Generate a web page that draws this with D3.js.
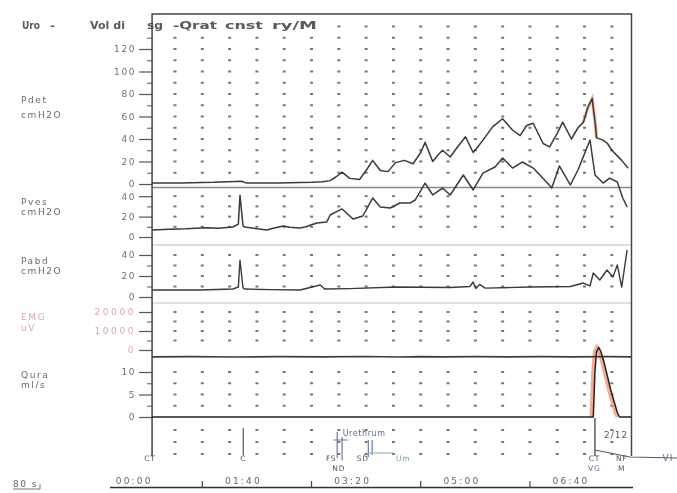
<!DOCTYPE html>
<html>
<head>
<meta charset="utf-8">
<script src="https://cdn.jsdelivr.net/npm/d3@7/dist/d3.min.js"></script>
<style>
  html, body { margin: 0; padding: 0; background: #fff; }
  svg { display: block; font-family: "DejaVu Sans", "Liberation Sans", sans-serif; }
</style>
</head>
<body>
<svg id="chart" width="677" height="493"></svg>
<script>
// ---- channel data: [time in s, value] ----
const pdet = [[4,1],[30,1],[60,1.5],[86,2.5],[90,1],[120,1],[150,1.5],[160,2],[167,3],[172,6],[178,10.5],[185,5],
  [194,4],[200,12],[206,21],[213,12],[220,11],[227,19],[235,21],[243,18],[250,28],[254,37],[261,20],[266,26],
  [270,30],[277,24],[283,32],[291,42],[298,28],[303,34],[307,39],[316,51],[325,58],[334,48],[341,43],[347,52],
  [353,54],[362,36],[368,33],[375,45],[380,55],[388,40],[394,50],[399,55],[403,68],[407,76],[410,52],[411,41],
  [417,39],[421,36],[425,30],[430,25],[434,21],[440,14]];

const pves = [[4,6.9],[20,7.5],[35,8],[48,8.8],[55,9],[65,8.5],[78,9.8],[83,12.7],[84.5,41],[87.3,10.8],[89,9.8],
  [100,8],[109,6.9],[115,8.5],[124,10.8],[130,9.5],[139.5,8.8],[145,10],[150,12],[155,13.7],[164,14.7],[167,21.6],
  [178,27.5],[188,17.6],[197,20.6],[206,38.2],[213,29.4],[222,28.4],[231,33.3],[240,33.3],[245,36.3],[254,52.9],
  [261,41.2],[270,48],[277,41.2],[289,60.8],[298,46.1],[307,62.7],[318,68.6],[325,77.5],[334,67.6],[343,73.5],
  [353,67.6],[366,52.9],[370,48],[377,69.6],[387,51],[394,65.7],[405,95.1],[409.6,60.8],[417,52.9],[423,57.8],
  [430,53.9],[435,38.2],[439,29.4]];

const pabd = [[4,6.7],[48,6.7],[78,7.6],[83,9.5],[84.5,35],[87.3,8.6],[89,7.6],[112,7],[139.5,6.7],[158,11.4],
  [162,7.6],[185,8],[228,9.5],[277,9],[295,10],[298,14.3],[300.5,8],[304,12],[309,8.5],[350,9.5],[387,10],
  [399,13.3],[405,10.5],[408,22.9],[414,16.2],[420.6,25.7],[426,19],[430,30.5],[434,9.5],[439,44.8]];

const emg = [[4,-3600],[40,-3500],[80,-3700],[120,-3500],[160,-3600],[200,-3400],[230,-3700],[250,-3500],
  [270,-3600],[300,-3500],[330,-3600],[360,-3500],[390,-3600],[420,-3500],[443,-3600]];

const qura = [[4,0],[408,0],[409.5,10],[411,14.5],[413,15.5],[415,14.5],[418,12],[421,9],[424,6],[427,3.5],
  [430,1],[432,0],[443,0]];

// ---- axis ticks ----
const pdetTicks = [0,20,40,60,80,100,120];
const pdetMinor = [10,30,50,70,90,110,130];
const pvesTicks = [0,20,40];
const pvesMinor = [10,30];
const pabdTicks = [0,20,40];
const pabdMinor = [10,30];
const emgTicks = [0,10000,20000];
const emgMinor = [5000,15000];
const quraTicks = [0,5,10];
const quraMinor = [2.5,7.5];

const timeTicks = [0,100,200,300,400];
const timeLabels = ["00:00","01:40","03:20","05:00","06:40"];
const timeMinor = [50,150,250,350];

// ---- event markers ----
const eventLabels = [
  {t:2, text:"CT", row:0},
  {t:87.5, text:"C", row:0},
  {t:168, text:"FS", row:0},
  {t:175, text:"ND", row:1},
  {t:197, text:"SD", row:0},
  {t:234, text:"Um", row:0, color:"#6fa88a"},
  {t:409, text:"CT", row:0},
  {t:409, text:"VG", row:1, color:"#5a6a9a"},
  {t:434, text:"NF", row:0},
  {t:434, text:"M", row:1}
];
const eventLines = [87.5, 173.5, 178, 202, 205.5];

const svg = d3.select("#chart");
const defs = svg.append("defs");
defs.append("filter").attr("id","soft").attr("x","-5%").attr("y","-5%").attr("width","110%").attr("height","110%")
  .append("feGaussianBlur").attr("stdDeviation",0.65);

const g = svg.append("g").attr("filter","url(#soft)");

const x = d3.scaleLinear().domain([0,443]).range([147.7,631.5]);
const yPdet = d3.scaleLinear().domain([0,120]).range([184,49]);
const yPves = d3.scaleLinear().domain([0,40]).range([237,196.2]);
const yPabd = d3.scaleLinear().domain([0,40]).range([297,255]);
const yEmg = d3.scaleLinear().domain([0,20000]).range([350,312]);
const yQura = d3.scaleLinear().domain([0,10]).range([417,372]);

const frameL = x(4), frameR = x(443), frameT = 14, frameB = 456;

const panels = [
  {name:"Pdet", unit:"cmH2O", y:yPdet, major:pdetTicks, minor:pdetMinor, rows:d3.range(10,150,10), lab:[103,118]},
  {name:"Pves", unit:"cmH2O", y:yPves, major:pvesTicks, minor:pvesMinor, rows:[10,20,30,40], lab:[205,215]},
  {name:"Pabd", unit:"cmH2O", y:yPabd, major:pabdTicks, minor:pabdMinor, rows:[10,20,30,40], lab:[264,274]},
  {name:"EMG", unit:"uV", y:yEmg, major:emgTicks, minor:emgMinor, rows:[5000,10000,15000,20000], lab:[320,331], pink:true},
  {name:"Qura", unit:"ml/s", y:yQura, major:quraTicks, minor:quraMinor, rows:[2.5,5,7.5,10], lab:[378,388]}
];

// dotted grid
const gridCols = d3.range(25,443,25);
const dots = g.append("g");
panels.forEach(p => {
  p.rows.forEach(r => {
    gridCols.forEach(c => {
      dots.append("rect").attr("x", x(c)-1.5).attr("y", p.y(r)-1).attr("width",3).attr("height",2)
        .attr("fill","#767676");
    });
  });
});
[430,442,454].forEach(yy => gridCols.forEach(c => {
  dots.append("rect").attr("x", x(c)-1.5).attr("y", yy-1).attr("width",3).attr("height",2).attr("fill","#767676");
}));

// panel separators
[[187.5,"#7f9088",1.5],[245,"#b8c4c8",1.2],[303,"#c4c4c4",1.2]].forEach(s => {
  g.append("line").attr("x1",frameL).attr("x2",frameR).attr("y1",s[0]).attr("y2",s[0])
    .attr("stroke",s[1]).attr("stroke-width",s[2]);
});

// title block
g.append("rect").attr("x",frameL+1).attr("y",19).attr("width",170).attr("height",12).attr("fill","#fff");
const titleParts = [["Uro",22,18],["-",50,5],["Vol di",90,35],["sg",147,16],["-Qrat",173,44],["cnst",225,38],["ry/M",272,45]];
titleParts.forEach(tp => {
  g.append("text").attr("x",tp[1]).attr("y",29).attr("textLength",tp[2]).attr("lengthAdjust","spacingAndGlyphs")
    .attr("font-size",11).attr("font-weight","bold").attr("fill","#5a5a5a").text(tp[0]);
});

// axes
panels.forEach(p => {
  const col = p.pink ? "#e3a2b4" : "#707070";
  const ax = g.append("g").attr("transform",`translate(${frameL},0)`)
    .call(d3.axisLeft(p.y).tickValues(p.major).tickSize(13).tickPadding(3).tickFormat(d3.format("d")));
  ax.select(".domain").remove();
  ax.selectAll("line").attr("stroke","#555").attr("stroke-width",1.2);
  ax.selectAll("text").attr("font-size",9).attr("fill",col).attr("letter-spacing", p.pink ? 2.6 : 1.6)
    .attr("font-family","DejaVu Sans");
  const mx = g.append("g").attr("transform",`translate(${frameL},0)`)
    .call(d3.axisLeft(p.y).tickValues(p.minor).tickSize(5).tickFormat(""));
  mx.select(".domain").remove();
  mx.selectAll("line").attr("stroke","#666").attr("stroke-width",1.1);
  // channel name
  g.append("text").attr("x",21).attr("y",p.lab[0]).attr("font-size",9).attr("letter-spacing",1.6)
    .attr("fill", p.pink ? "#e3a2b4" : "#6a6a6a").text(p.name);
  g.append("text").attr("x",21).attr("y",p.lab[1]).attr("font-size",9).attr("letter-spacing",1.6)
    .attr("fill", p.pink ? "#e3a2b4" : "#6a6a6a").text(p.unit);
});

// frame
g.append("path").attr("d",`M${frameL},${frameB}V${frameT}H${frameR}V${frameB}`)
  .attr("fill","none").attr("stroke","#444").attr("stroke-width",1.5);

// traces
const lineFor = ys => d3.line().x(d => x(d[0])).y(d => ys(d[1]));
// orange highlight on the detrusor peak and the flow curve
g.append("path").datum(pdet.filter(d => d[0] >= 399 && d[0] <= 411)).attr("d", lineFor(yPdet))
  .attr("fill","none").attr("stroke","#f2a07a").attr("stroke-width",3.2).attr("opacity",0.8);
g.append("path").datum(qura.filter(d => d[0] >= 406 && d[0] <= 433)).attr("d", lineFor(yQura))
  .attr("fill","none").attr("stroke","#f09070").attr("stroke-width",3.4).attr("opacity",0.75)
  .attr("transform","translate(-2,0)");

const traceStyle = (sel, w, c) => sel.attr("fill","none").attr("stroke",c).attr("stroke-width",w)
  .attr("stroke-linejoin","round");
traceStyle(g.append("path").datum(pdet).attr("d", lineFor(yPdet)), 1.5, "#3a3a3a");
traceStyle(g.append("path").datum(pves).attr("d", lineFor(yPves)), 1.5, "#3a3a3a");
traceStyle(g.append("path").datum(pabd).attr("d", lineFor(yPabd)), 1.4, "#3a3a3a");
traceStyle(g.append("path").datum(emg).attr("d", lineFor(yEmg)), 1.6, "#4a3838");
traceStyle(g.append("path").datum(qura).attr("d", lineFor(yQura)), 1.5, "#222");

// event channel
eventLines.forEach((t,i) => {
  const y1 = [428,432,437,440,440][i], y2 = [455,458,460,457,455][i];
  g.append("line").attr("x1",x(t)).attr("x2",x(t)).attr("y1",y1).attr("y2",y2)
    .attr("stroke", i === 0 ? "#555" : "#6a78a8").attr("stroke-width",1.2);
});
g.append("line").attr("x1",x(170)).attr("x2",x(183)).attr("y1",440).attr("y2",440).attr("stroke","#6a78a8").attr("stroke-width",1);
g.append("line").attr("x1",x(202)).attr("x2",x(225)).attr("y1",453).attr("y2",453).attr("stroke","#8fbf9f").attr("stroke-width",1.2);
g.append("text").attr("x",x(178.5)).attr("y",436).attr("font-size",8).attr("letter-spacing",0.6)
  .attr("fill","#5a6a98").text("Urethrum");
// voiding marker and volume trace
g.append("line").attr("x1",x(409.5)).attr("x2",x(409.5)).attr("y1",418).attr("y2",frameB)
  .attr("stroke","#444").attr("stroke-width",1.3);
g.append("path").attr("d", `M${x(409.5)},450L${x(441.5)},457L677,458`).attr("fill","none")
  .attr("stroke","#556").attr("stroke-width",1.1);
g.append("text").attr("x",x(429)).attr("y",438).attr("font-size",9).attr("text-anchor","middle")
  .attr("letter-spacing",1).attr("fill","#555").text("2/12");
g.append("text").attr("x",668).attr("y",461).attr("font-size",9).attr("text-anchor","middle")
  .attr("letter-spacing",1).attr("fill","#6a6a8a").text("VI");
eventLabels.forEach(e => {
  g.append("text").attr("x",x(e.t)).attr("y", e.row ? 470.5 : 461).attr("font-size",7.5).attr("text-anchor","middle")
    .attr("letter-spacing",0.8).attr("fill", e.color || "#555").text(e.text);
});

// time axis
g.append("line").attr("x1",110).attr("x2",633).attr("y1",487.5).attr("y2",487.5).attr("stroke","#333").attr("stroke-width",1.3);
timeMinor.forEach(t => g.append("line").attr("x1",x(t)).attr("x2",x(t)).attr("y1",481).attr("y2",487.5)
  .attr("stroke","#444").attr("stroke-width",1.2));
timeTicks.forEach((t,i) => g.append("text").attr("x",x(t)+5).attr("y",483.5).attr("text-anchor","end")
  .attr("font-size",9).attr("letter-spacing",2.2).attr("fill","#666").text(timeLabels[i]));

// time scale note
g.append("text").attr("x",13).attr("y",487).attr("font-size",9).attr("letter-spacing",1.5).attr("fill","#666").text("80 s");
g.append("path").attr("d","M13,489H40V484").attr("fill","none").attr("stroke","#777").attr("stroke-width",1);
</script>
</body>
</html>
